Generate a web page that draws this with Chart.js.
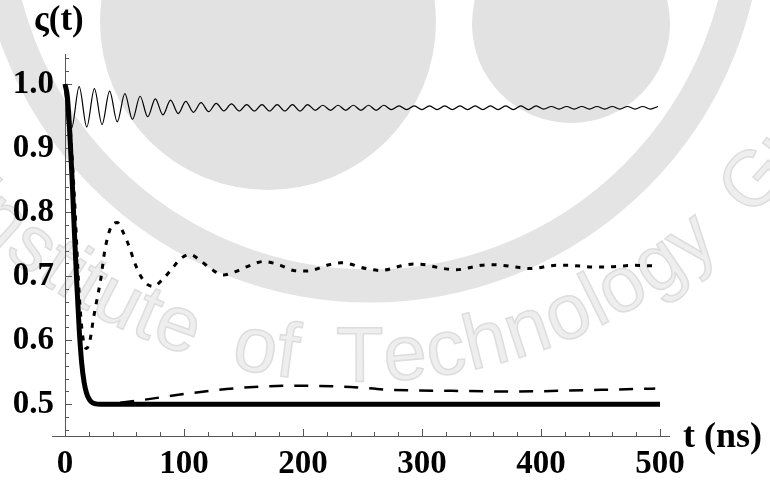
<!DOCTYPE html>
<html lang="en">
<head>
<meta charset="UTF-8">
<title>Coherence decay</title>
<script src="https://cdn.jsdelivr.net/npm/chart.js"></script>
<style>
    body { margin: 0; background: #fff; }
    #wrap { width: 770px; height: 481px; }
</style>
</head>
<body>
<div id="wrap"><canvas id="zeta" width="770" height="481"></canvas></div>
<script>
// thin solid curve: start value, then alternating troughs and crests
var tThin = [0, 5.5, 11.9, 18.3, 24.7, 31.1, 37.5, 43.9, 50.3, 56.7, 63.1, 69.5, 75.9, 82.3, 88.7,
    95.1, 101.5, 107.9, 114.3, 120.7, 127.1, 133.5, 139.9, 146.3, 152.7, 159.1, 165.5, 171.9, 178.3,
    184.7, 191.1, 197.5, 203.9, 210.3, 216.7, 223.1, 229.5, 235.9, 242.3, 248.7, 255.1, 261.5, 267.9,
    274.3, 280.7, 287.1, 293.5, 299.9, 306.3, 312.7, 319.1, 325.5, 331.9, 338.3, 344.7, 351.1, 357.5,
    363.9, 370.3, 376.7, 383.1, 389.5, 395.9, 402.3, 408.7, 415.1, 421.5, 427.9, 434.3, 440.7, 447.1,
    453.5, 459.9, 466.3, 472.7, 479.1, 485.5, 491.9, 498.3];
var vThin = [1.0,
    0.931, 0.996, 0.933, 0.993, 0.937, 0.989, 0.941, 0.985, 0.945, 0.981, 0.949, 0.977,
    0.952, 0.975, 0.954, 0.973, 0.956, 0.971, 0.957, 0.970, 0.958, 0.969,
    0.958, 0.968, 0.958, 0.968, 0.958, 0.968, 0.958, 0.968, 0.958, 0.968,
    0.959, 0.967, 0.959, 0.967, 0.959, 0.967, 0.959, 0.967, 0.959, 0.967,
    0.960, 0.966, 0.960, 0.966, 0.960, 0.966, 0.960, 0.966, 0.960, 0.966,
    0.960, 0.966, 0.960, 0.966, 0.960, 0.966, 0.960, 0.966, 0.960, 0.966,
    0.961, 0.965, 0.961, 0.965, 0.961, 0.965, 0.961, 0.965,
    0.961, 0.965, 0.961, 0.965, 0.961, 0.965, 0.961, 0.965];

// dotted curve
var tDot = [0, 4, 8, 12, 15, 18, 21, 24, 27, 30, 33, 36, 39, 44, 49, 54, 58, 62, 67, 74, 82, 90, 97,
    105, 114, 123, 133, 143, 153, 167, 181, 192, 203, 222, 232, 253, 265, 287, 296, 318, 328, 350,
    360, 382, 391, 413, 422, 444, 455, 478, 497];
var vDot = [1.0, 0.94, 0.82, 0.67, 0.605, 0.587, 0.60, 0.635, 0.665, 0.695, 0.735, 0.762, 0.778,
    0.784, 0.768, 0.746, 0.724, 0.706, 0.691, 0.684, 0.695, 0.712, 0.727, 0.734, 0.724, 0.711, 0.702,
    0.707, 0.715, 0.723, 0.717, 0.709, 0.708, 0.718, 0.721, 0.712, 0.709, 0.718, 0.719, 0.712, 0.710,
    0.717, 0.718, 0.7135, 0.712, 0.717, 0.717, 0.7145, 0.7145, 0.717, 0.716];

// dashed curve
var tDash = [0, 6, 12, 18, 25, 35, 45, 66, 108, 150, 195, 240, 270, 325, 380, 435, 496];
var vDash = [1.0, 0.85, 0.615, 0.518, 0.501, 0.5, 0.502, 0.507, 0.518, 0.526, 0.529, 0.527, 0.523,
    0.521, 0.520, 0.522, 0.5245];

// thick solid curve
var tThick = [0, 2, 4, 6, 8, 10, 12, 14, 16, 18, 20, 22, 25, 30, 500];
var vThick = [1.0, 0.98, 0.925, 0.85, 0.765, 0.685, 0.615, 0.565, 0.535, 0.518, 0.509, 0.504, 0.501,
    0.5, 0.5];

var xTicks = [0, 100, 200, 300, 400, 500];
var xTickLabels = ['0', '100', '200', '300', '400', '500'];
var yTicks = [0.5, 0.6, 0.7, 0.8, 0.9, 1.0];
var yTickLabels = ['0.5', '0.6', '0.7', '0.8', '0.9', '1.0'];

function pts(ts, vs) {
    return ts.map(function (t, i) { return { x: t, y: vs[i] }; });
}

// faint crest behind the plot
var crest = {
    id: 'crest',
    beforeDraw: function (chart) {
        var ctx = chart.ctx;
        ctx.save();
        ctx.fillStyle = '#fff';
        ctx.fillRect(0, 0, chart.width, chart.height);
        ctx.fillStyle = '#e2e2e2';
        ctx.beginPath(); ctx.arc(268, 22, 168, 0, Math.PI * 2); ctx.fill();
        ctx.beginPath(); ctx.arc(571, 24, 99, 0, Math.PI * 2); ctx.fill();
        ctx.strokeStyle = '#e4e4e4';
        ctx.lineWidth = 33;
        ctx.beginPath(); ctx.arc(370, -90, 376, 0, Math.PI); ctx.stroke();

        // lettering round the lower rim
        var text = 'Indian Institute of Technology Guwahati';
        ctx.font = '78px "Liberation Sans"';
        ctx.textAlign = 'center';
        ctx.textBaseline = 'middle';
        ctx.fillStyle = '#eeeeee';
        ctx.strokeStyle = '#dddddd';
        ctx.lineWidth = 1.5;
        var R = 533, cx = 358, cy = -173;
        var chars = text.split('');
        var centers = [], pos = 0;
        chars.forEach(function (ch) {
            var w = ctx.measureText(ch).width + (ch === ' ' ? 16 : 0);
            centers.push(pos + w / 2);
            pos += w;
        });
        var anchor = text.indexOf('te of');
        var a0 = 113.3 * Math.PI / 180;
        chars.forEach(function (ch, i) {
            var a = a0 - (centers[i] - centers[anchor]) / R;
            ctx.save();
            ctx.translate(cx + R * Math.cos(a), cy + R * Math.sin(a));
            ctx.rotate(a - Math.PI / 2);
            ctx.fillText(ch, 0, 0);
            ctx.strokeText(ch, 0, 0);
            ctx.restore();
        });
        ctx.restore();
    }
};

// axes crossing at t = 0, with inward major and minor ticks
var frame = {
    id: 'frame',
    beforeDatasetsDraw: function (chart) {
        var ctx = chart.ctx, xs = chart.scales.x, ys = chart.scales.y;
        var x0 = xs.getPixelForValue(0), yb = ys.bottom;
        ctx.save();
        ctx.strokeStyle = '#555';
        ctx.lineWidth = 1;
        ctx.beginPath();
        ctx.moveTo(xs.getPixelForValue(-10.8), yb + 0.5);
        ctx.lineTo(xs.right, yb + 0.5);
        ctx.moveTo(x0 + 0.5, ys.top);
        ctx.lineTo(x0 + 0.5, yb);
        for (var t = 0; t <= 500; t += 20) {
            var px = Math.round(xs.getPixelForValue(t)) + 0.5;
            var len = t % 100 === 0 ? 7 : 4;
            ctx.moveTo(px, yb);
            ctx.lineTo(px, yb - len);
        }
        for (var k = 23; k <= 52; k++) {
            var py = Math.round(ys.getPixelForValue(k * 0.02)) + 0.5;
            var l2 = k % 5 === 0 ? 7 : 4;
            ctx.moveTo(x0, py);
            ctx.lineTo(x0 + l2, py);
        }
        ctx.stroke();
        ctx.restore();
    },
    afterDraw: function (chart) {
        var ctx = chart.ctx;
        ctx.save();
        ctx.fillStyle = '#000';
        ctx.textBaseline = 'alphabetic';
        ctx.textAlign = 'left';
        ctx.font = 'bold 35px "Liberation Serif"';
        ctx.fillText('\u03C2(t)', 34, 30);
        ctx.font = 'bold 36px "Liberation Serif"';
        ctx.fillText('t (ns)', 683, 447);
        ctx.restore();
    }
};

var tickFont = { family: 'Liberation Serif', size: 33, weight: 'bold', lineHeight: 1 };

new Chart(document.getElementById('zeta'), {
    type: 'line',
    data: {
        datasets: [
            { data: pts(tThick, vThick), borderColor: '#000', borderWidth: 5, order: 0 },
            { data: pts(tDash, vDash), borderColor: '#000', borderWidth: 2.5, borderDash: [14, 11], order: 1 },
            { data: pts(tDot, vDot), borderColor: '#000', borderWidth: 3, borderDash: [5, 7], order: 2 },
            { data: pts(tThin, vThin), borderColor: '#000', borderWidth: 1.2, order: 3 }
        ]
    },
    options: {
        responsive: false,
        animation: false,
        devicePixelRatio: 1,
        clip: false,
        layout: { padding: { top: 54, right: 100, left: 0, bottom: 0 } },
        elements: {
            point: { radius: 0 },
            line: { cubicInterpolationMode: 'monotone', fill: false }
        },
        plugins: { legend: { display: false }, tooltip: { enabled: false } },
        scales: {
            x: {
                type: 'linear',
                min: 0,
                max: 508.4,
                afterBuildTicks: function (s) { s.ticks = xTicks.map(function (v) { return { value: v }; }); },
                afterFit: function (s) { s.height = 45; },
                grid: { display: false, drawTicks: false },
                border: { display: false },
                ticks: {
                    font: tickFont, color: '#000', padding: 12, maxRotation: 0,
                    callback: function (v, i) { return xTickLabels[i]; }
                }
            },
            y: {
                type: 'linear',
                min: 0.4505,
                max: 1.047,
                afterBuildTicks: function (s) { s.ticks = yTicks.map(function (v) { return { value: v }; }); },
                afterFit: function (s) { s.width = 65; },
                grid: { display: false, drawTicks: false },
                border: { display: false },
                ticks: {
                    font: tickFont, color: '#000', padding: 11,
                    callback: function (v, i) { return yTickLabels[i]; }
                }
            }
        }
    },
    plugins: [crest, frame]
});
</script>
</body>
</html>
